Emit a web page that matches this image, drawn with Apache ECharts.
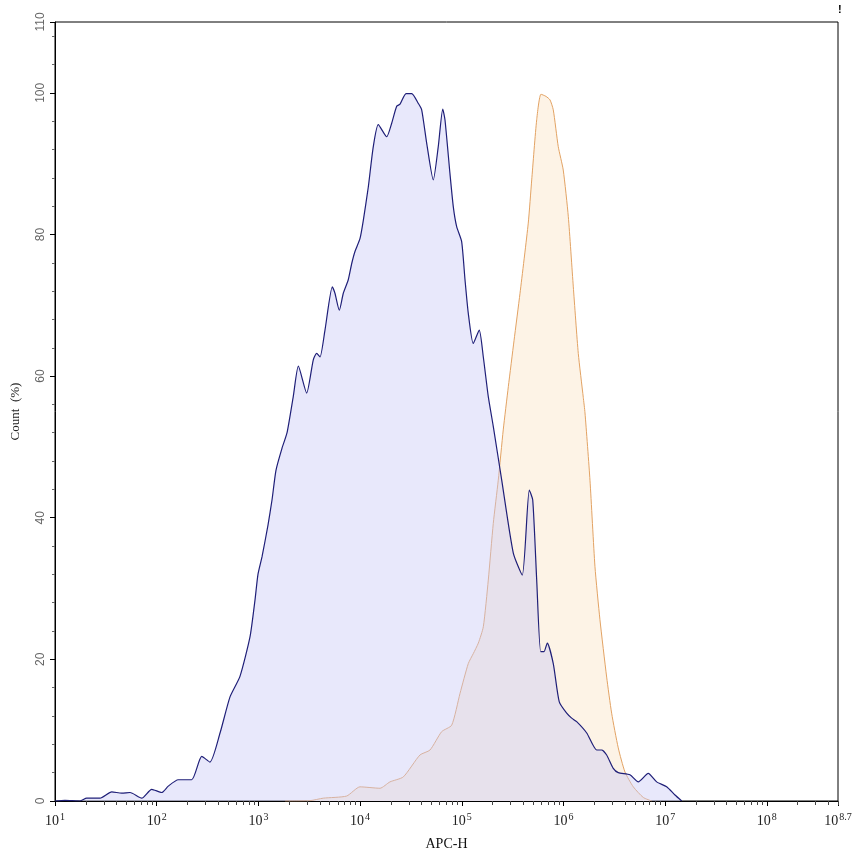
<!DOCTYPE html>
<html>
<head>
<meta charset="utf-8">
<script src="https://cdn.jsdelivr.net/npm/echarts@6/dist/echarts.min.js"></script>
<style>
html,body{margin:0;padding:0;background:#fff;}
#chart{width:853px;height:856px;}
</style>
</head>
<body>
<div id="chart"></div>
<script>
// x positions are log10(APC-H)
const blueX = [1.000,1.098,1.246,1.312,1.443,1.558,1.656,1.738,1.853,1.951,2.049,2.114,2.212,2.344,2.443,2.524,2.623,2.721,2.819,2.918,2.967,2.996,3.036,3.095,3.134,3.173,3.232,3.282,3.343,3.393,3.475,3.540,3.573,3.606,3.655,3.727,3.753,3.796,3.835,3.884,3.918,3.950,3.999,4.032,4.081,4.130,4.179,4.262,4.311,4.360,4.393,4.452,4.508,4.573,4.606,4.655,4.720,4.769,4.813,4.835,4.884,4.917,4.950,4.999,5.032,5.064,5.113,5.172,5.212,5.261,5.310,5.393,5.507,5.595,5.664,5.698,5.737,5.776,5.809,5.841,5.900,5.959,6.032,6.081,6.130,6.229,6.327,6.376,6.425,6.490,6.539,6.654,6.736,6.834,6.917,7.015,7.097,7.163];
const blueY = [0,0.1,0.0,0.4,0.4,1.3,1.1,1.2,0.4,1.65,1.2,2.1,3.0,3.0,6.3,5.5,9.6,14.7,17.6,23.2,28.4,32,34.5,39,42.5,46.7,49.8,52,57.1,61.4,57.6,62.3,63.2,62.7,66.5,72.6,71.7,69.3,71.7,73.6,75.9,77.6,79.4,82,86.7,92.4,95.5,93.8,95.7,98.1,98.4,99.9,99.9,98.5,97.6,92.9,87.7,92.4,97.7,96.2,88.6,83.9,81.1,79.0,73.6,68.9,64.6,66.5,62.7,57.1,52.9,45.3,35.0,31.9,43.9,42.5,31.2,21.1,21.1,22.3,19.4,14.0,12.4,11.7,11.2,9.6,7.2,7.2,6.5,4.6,4.0,3.7,2.7,3.9,2.7,2.0,0.85,0];

const orangeX = [3.262,3.508,3.638,3.868,3.999,4.196,4.294,4.425,4.589,4.688,4.803,4.901,4.983,5.064,5.113,5.163,5.212,5.261,5.310,5.359,5.408,5.458,5.514,5.573,5.654,5.688,5.737,5.779,5.828,5.868,5.900,5.949,5.998,6.048,6.097,6.146,6.195,6.212,6.261,6.310,6.359,6.425,6.474,6.539,6.605,6.687,6.785,6.868];
const orangeY = [0,0.05,0.4,0.7,2.0,1.8,2.7,3.4,6.5,7.2,9.8,10.7,15.2,19.4,20.8,22.3,24.6,31.2,39.2,45.3,52.4,58.5,65,71.7,81.6,87.7,96.2,99.8,99.5,99.0,97.6,92.4,89.1,82.5,72.6,63.2,57,54.8,45.3,33.1,25.6,17.5,12.4,7.5,4.1,2.0,0.5,0];

const xDecades = [1,2,3,4,5,6,7,8];
const minorFactors = [2,3,4,5,6,7,8,9];
const xMin = 1, xMax = 8.7;
const yTicksMax = 110;

const minorTicks = [];
xDecades.forEach(d => minorFactors.forEach(k => {
  const v = d + Math.log10(k);
  if (v < xMax) minorTicks.push([v, 0]);
}));

const blueData = blueX.map((x, i) => [x, blueY[i]]);
const orangeData = orangeX.map((x, i) => [x, orangeY[i]]);

const chart = echarts.init(document.getElementById('chart'), null, {renderer: 'canvas'});
chart.setOption({
  animation: false,
  backgroundColor: '#fff',
  grid: {left: 55, right: 15, top: 22, bottom: 55, show: true, borderColor: '#000', borderWidth: 1, containLabel: false, outerBoundsMode: 'none'},
  xAxis: {
    type: 'value', min: xMin, max: xMax, interval: 1,
    name: 'APC-H', nameLocation: 'middle', nameGap: 36,
    nameTextStyle: {fontFamily: 'Liberation Serif', fontSize: 14, color: '#111'},
    axisLine: {show: true, lineStyle: {color: '#000', width: 1}},
    axisTick: {show: true, length: 5, lineStyle: {color: '#000'}},
    splitLine: {show: false},
    axisLabel: {
      margin: 11,
      formatter: v => '{b|10}{s|' + (Math.round(v * 10) / 10) + '}',
      rich: {
        b: {fontFamily: 'Liberation Serif', fontSize: 14, color: '#222'},
        s: {fontFamily: 'Liberation Serif', fontSize: 10, color: '#222', padding: [0, 0, 9, 1]}
      }
    }
  },
  yAxis: {
    type: 'value', min: 0, max: yTicksMax, interval: 20,
    name: 'Count  (%)', nameLocation: 'middle', nameGap: 33, nameRotate: 90,
    nameTextStyle: {fontFamily: 'Liberation Serif', fontSize: 13, color: '#222'},
    axisLine: {show: true, lineStyle: {color: '#000', width: 1}},
    axisTick: {show: true, length: 5, lineStyle: {color: '#000'}},
    minorTick: {show: true, splitNumber: 5, length: 3, lineStyle: {color: '#666'}},
    splitLine: {show: false},
    axisLabel: {rotate: 90, margin: 8, fontFamily: 'Liberation Sans', fontSize: 12, color: '#666'}
  },
  series: [
    {
      type: 'line', data: orangeData, smooth: 0.2, showSymbol: false, symbol: 'none',
      lineStyle: {color: '#e2a263', width: 1},
      areaStyle: {color: '#fdf3e6', opacity: 1},
      z: 2
    },
    {
      type: 'line', data: blueData, smooth: 0.2, showSymbol: false, symbol: 'none',
      lineStyle: {color: '#1f1f78', width: 1.2},
      areaStyle: {color: 'rgb(200,200,245)', opacity: 0.42},
      z: 3
    },
    {
      type: 'custom', data: minorTicks, clip: false, silent: true, z: 5,
      encode: {x: 0, y: 1},
      renderItem: (params, api) => {
        const p = api.coord([api.value(0), 0]);
        const x = Math.round(p[0]) + 0.5;
        return {type: 'line', shape: {x1: x, y1: p[1], x2: x, y2: p[1] + 4}, style: {stroke: '#444', lineWidth: 1}};
      }
    }
  ],
  graphic: [
    {type: 'text', left: 838, top: 4, style: {text: '!', fontFamily: 'Liberation Sans', fontWeight: 'bold', fontSize: 11, fill: '#000'}}
  ]
});
</script>
</body>
</html>
